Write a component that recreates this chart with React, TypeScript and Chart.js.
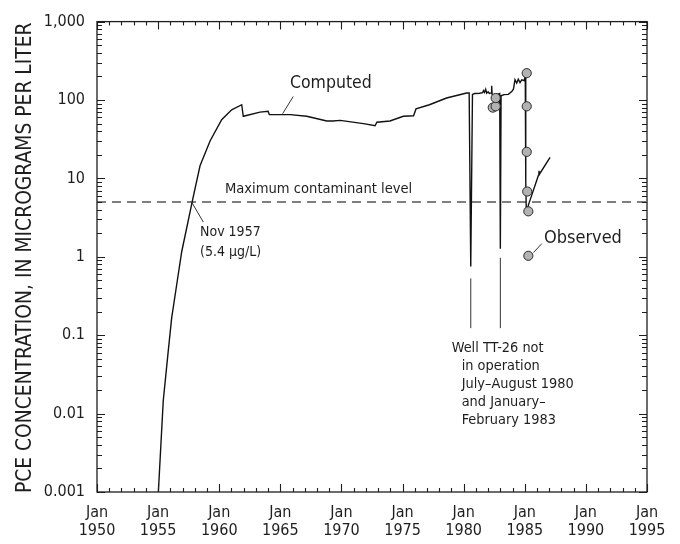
import React, { useEffect, useRef } from "react";
import { Chart, registerables } from "chart.js";

Chart.register(...registerables);

// Simulated PCE concentration at well TT-26 (micrograms per liter)
const computedYears = [
  1955.02, 1955.42, 1955.83, 1956.11, 1956.52, 1956.93, 1957.83, 1958.43, 1959.25, 1960.2,
  1961.02, 1961.84, 1961.97, 1963.34, 1964.0, 1964.1, 1965.24, 1965.8, 1967.16, 1968.8,
  1969.3, 1969.9, 1971.8, 1972.75, 1972.9, 1973.97, 1975.06, 1975.9, 1976.1, 1977.2,
  1978.6, 1980.25, 1980.45, 1980.58, 1980.72, 1980.9, 1981.3, 1981.55, 1981.62, 1981.7,
  1981.8, 1981.88, 1982.0, 1982.1, 1982.25, 1982.29, 1982.33, 1982.7, 1982.95, 1983.0,
  1983.06, 1983.3, 1983.66, 1983.93, 1984.07, 1984.2, 1984.34, 1984.47, 1984.61, 1984.75,
  1984.94, 1985.04, 1985.08, 1985.12, 1985.2, 1985.3, 1986.12, 1986.16, 1986.2, 1987.07,
];
const computedPce = [
  0.001, 0.0146, 0.063, 0.166, 0.44, 1.16, 5.4, 14.5, 30, 56,
  75, 87, 62, 70, 72, 65, 65, 65, 62, 54,
  54, 55, 50, 47, 52, 54, 62, 63, 77, 87,
  106, 123, 123, 0.75, 118, 121, 122, 124, 132, 125,
  137, 122, 127, 121, 123, 152, 118, 117, 121, 1.27,
  113, 117, 118, 128, 137, 181, 164, 184, 167, 181,
  177, 198, 9, 4.2, 4.0, 4.6, 11.0, 12.5, 11.3, 18.5,
];

// Measured PCE concentrations
const observedYears = [1982.38, 1982.62, 1982.62, 1985.16, 1985.16, 1985.16, 1985.2, 1985.29, 1985.29];
const observedPce = [80, 83, 106, 220, 83, 21.8, 6.8, 3.8, 1.03];

// Maximum contaminant level for PCE
const mclYears = [1950, 1995];
const mclPce = [5, 5];

const yearTicks = [1950, 1955, 1960, 1965, 1970, 1975, 1980, 1985, 1990, 1995];
const concentrationTicks = [0.001, 0.01, 0.1, 1, 10, 100, 1000];
const concentrationLabels = ["0.001", "0.01", "0.1", "1", "10", "100", "1,000"];

const FONT = '"DejaVu Sans Condensed", "Liberation Sans Narrow", "Arial Narrow", sans-serif';
const INK = "#1e1e1e";

const framePlugin = {
  id: "frameAndNotes",
  afterDraw(chart: any) {
    const { ctx, chartArea: ca } = chart;
    const xs = chart.scales.x;
    const ys = chart.scales.y;
    const px = (v: number) => xs.getPixelForValue(v);
    const py = (v: number) => ys.getPixelForValue(v);

    ctx.save();
    ctx.strokeStyle = INK;
    ctx.lineWidth = 1.3;
    ctx.strokeRect(ca.left, ca.top, ca.right - ca.left, ca.bottom - ca.top);

    // inward year ticks, top and bottom
    ctx.lineWidth = 1.1;
    ctx.beginPath();
    for (let yr = 1950; yr <= 1995; yr++) {
      const x = Math.round(px(yr)) + 0.5;
      const len = yr % 5 === 0 ? 8 : 4;
      ctx.moveTo(x, ca.bottom);
      ctx.lineTo(x, ca.bottom - len);
      ctx.moveTo(x, ca.top);
      ctx.lineTo(x, ca.top + len);
    }
    // inward log ticks, left and right
    for (let d = -3; d <= 3; d++) {
      for (let m = 1; m <= 9; m++) {
        const v = m * Math.pow(10, d);
        if (v > 1000 * 1.0001) continue;
        const y = Math.round(py(v)) + 0.5;
        const len = m === 1 ? 8 : 5;
        ctx.moveTo(ca.left, y);
        ctx.lineTo(ca.left + len, y);
        ctx.moveTo(ca.right, y);
        ctx.lineTo(ca.right - len, y);
      }
    }
    ctx.stroke();

    // vertical axis title
    ctx.fillStyle = INK;
    ctx.font = `20.8px ${FONT}`;
    ctx.save();
    ctx.translate(31, (ca.top + ca.bottom) / 2 + 1);
    ctx.rotate(-Math.PI / 2);
    ctx.textAlign = "center";
    ctx.textBaseline = "alphabetic";
    ctx.fillText("PCE CONCENTRATION, IN MICROGRAMS PER LITER", 0, 0);
    ctx.restore();

    // callouts
    const line = (x1: number, v1: number, x2: number, v2: number) => {
      ctx.beginPath();
      ctx.moveTo(px(x1), py(v1));
      ctx.lineTo(px(x2), py(v2));
      ctx.stroke();
    };
    ctx.lineWidth = 1;
    ctx.strokeStyle = "#333";
    line(1966.06, 111, 1965.19, 67);
    line(1957.75, 4.97, 1958.7, 2.77);
    line(1985.7, 1.13, 1986.39, 1.47);
    line(1980.58, 0.53, 1980.58, 0.123);
    line(1983.0, 0.97, 1983.0, 0.123);

    ctx.textAlign = "left";
    ctx.textBaseline = "middle";
    ctx.font = `17.5px ${FONT}`;
    ctx.fillText("Computed", px(1965.79), py(164));
    ctx.font = `18px ${FONT}`;
    ctx.fillText("Observed", px(1986.57), py(1.71));
    ctx.font = `14.6px ${FONT}`;
    ctx.fillText("Maximum contaminant level", px(1960.47), py(7.26));

    ctx.font = `14px ${FONT}`;
    const nx = px(1958.43);
    const ny = py(2.07);
    ctx.fillText("Nov 1957", nx, ny);
    ctx.fillText("(5.4 \u00b5g/L)", nx, ny + 20);

    ctx.font = `14.4px ${FONT}`;
    const wx = px(1979.02);
    const wy = py(0.069);
    ctx.fillText("Well TT-26 not", wx, wy);
    ctx.fillText("in operation", wx + 10, wy + 18.2);
    ctx.fillText("July\u2013August 1980", wx + 10, wy + 36.4);
    ctx.fillText("and January\u2013", wx + 10, wy + 54.6);
    ctx.fillText("February 1983", wx + 10, wy + 72.8);
    ctx.restore();
  },
};

export default function App() {
  const canvasRef = useRef<HTMLCanvasElement | null>(null);

  useEffect(() => {
    if (!canvasRef.current) return;
    const chart = new Chart(canvasRef.current, {
      type: "scatter",
      data: {
        datasets: [
          {
            label: "Observed",
            data: observedYears.map((x, i) => ({ x, y: observedPce[i] })),
            pointRadius: 4.6,
            pointBackgroundColor: "#b2b2b2",
            pointBorderColor: "#2a2a2a",
            pointBorderWidth: 1,
            showLine: false,
            order: 0,
          },
          {
            label: "Computed",
            data: computedYears.map((x, i) => ({ x, y: computedPce[i] })),
            showLine: true,
            borderColor: "#111",
            borderWidth: 1.4,
            pointRadius: 0,
            tension: 0,
            order: 1,
          },
          {
            label: "Maximum contaminant level",
            data: mclYears.map((x, i) => ({ x, y: mclPce[i] })),
            showLine: true,
            borderColor: "#555",
            borderWidth: 1.3,
            borderDash: [9, 6],
            pointRadius: 0,
            order: 2,
          },
        ],
      },
      options: {
        animation: false,
        responsive: true,
        maintainAspectRatio: false,
        devicePixelRatio: 1,
        layout: { padding: { top: 18, right: 33, left: 0, bottom: 0 } },
        plugins: { legend: { display: false }, tooltip: { enabled: false } },
        scales: {
          x: {
            type: "linear",
            min: 1950,
            max: 1995,
            grid: { display: false, drawTicks: false },
            border: { display: false },
            afterBuildTicks: (scale: any) => {
              scale.ticks = yearTicks.map((value) => ({ value }));
            },
            afterFit: (scale: any) => {
              scale.height = 52;
            },
            ticks: {
              autoSkip: false,
              maxRotation: 0,
              padding: 12,
              color: INK,
              font: { family: FONT, size: 16, lineHeight: 1.125 },
              callback: (v: any) => ["Jan", String(v)],
            },
          },
          y: {
            type: "logarithmic",
            min: 0.001,
            max: 1000,
            grid: { display: false, drawTicks: false },
            border: { display: false },
            afterBuildTicks: (scale: any) => {
              scale.ticks = concentrationTicks.map((value) => ({ value }));
            },
            afterFit: (scale: any) => {
              scale.width = 97;
            },
            ticks: {
              autoSkip: false,
              padding: 12,
              color: INK,
              font: { family: FONT, size: 16 },
              callback: (v: any) => {
                const i = concentrationTicks.findIndex((t) => Math.abs(t - v) / t < 1e-6);
                return i >= 0 ? concentrationLabels[i] : "";
              },
            },
          },
        },
      },
      plugins: [framePlugin],
    } as any);
    return () => chart.destroy();
  }, []);

  return (
    <div style={{ position: "fixed", left: 0, top: 0, width: 680, height: 544, background: "#fff" }}>
      <canvas ref={canvasRef} />
    </div>
  );
}
